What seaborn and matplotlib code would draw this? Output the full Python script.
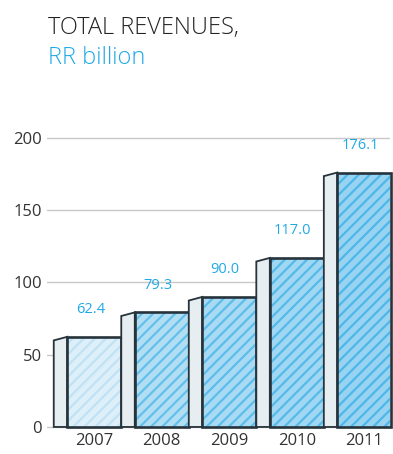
import matplotlib
matplotlib.use("Agg")
import matplotlib.pyplot as plt
from matplotlib.patches import Polygon, Rectangle
import numpy as np
import pandas as pd
import seaborn as sns

# Total revenues by year, RR billion
years = ["2007", "2008", "2009", "2010", "2011"]
revenues = [62.4, 79.3, 90.0, 117.0, 176.1]
y_ticks = [0, 50, 100, 150, 200]

df = pd.DataFrame({"year": years, "revenue": revenues})

sns.set_style("white")
plt.rcParams["font.family"] = ["Open Sans", "DejaVu Sans"]
plt.rcParams["hatch.linewidth"] = 1.6

face_colors = ["#DDEFF9", "#B2DEF4", "#A8DAF3", "#A0D7F2", "#98D3F1"]
hatch_colors = ["#C0E2F4", "#63C0EC", "#5CBDEB", "#55BAEA", "#4EB7EA"]
edge_dark = "#27333B"
side_color = "#E6EEF2"
accent = "#1FA9E6"
text_dark = "#333333"

fig = plt.figure(figsize=(3.93, 4.54), dpi=100)
ax = fig.add_axes([47 / 393, 0.050, (390 - 47) / 393, 0.662])

sns.barplot(data=df, x="year", y="revenue", hue="year", palette=face_colors,
            width=0.80, linewidth=0, legend=False, saturation=1, ax=ax)

side_w = 0.2
for i, (bar, hc) in enumerate(zip(ax.patches, hatch_colors)):
    z = 3 + i * 0.1
    bar.set_hatch("///")
    bar.set_edgecolor(hc)
    bar.set_linewidth(0)
    bar.set_zorder(z)
    x0, w, h = bar.get_x(), bar.get_width(), bar.get_height()
    # left side face of the box
    side = Polygon([(x0 - side_w, 0), (x0 - side_w, h - 2.5), (x0, h), (x0, 0)],
                   closed=True, facecolor=side_color, edgecolor=edge_dark,
                   linewidth=1.3, zorder=z - 0.01, clip_on=False)
    ax.add_patch(side)
    # front outline
    ax.add_patch(Rectangle((x0, 0), w, h, fill=False, edgecolor=edge_dark,
                           linewidth=1.9, zorder=z + 0.01, clip_on=False))
    ax.annotate(f"{revenues[i]:.1f}", (x0 + w / 2 - 0.06, h), xytext=(0, 14),
                textcoords="offset points", ha="center", va="bottom",
                color=accent, fontsize=10.5, annotation_clip=False)

ax.set_xlim(-0.70, 4.38)
ax.set_ylim(-3, 205)
ax.set_yticks(y_ticks)
ax.set_yticklabels([str(t) for t in y_ticks])
ax.yaxis.grid(True, color="#C8C8C8", linewidth=1.0)
ax.set_axisbelow(True)
for s in ax.spines.values():
    s.set_visible(False)
ax.tick_params(axis="y", length=0, pad=3.5, labelsize=12, labelcolor=text_dark)
ax.tick_params(axis="x", length=0, pad=1.5, labelsize=12, labelcolor=text_dark)
ax.set_xlabel("")
ax.set_ylabel("")

fig.text(48 / 393, 1 - 34 / 454, "TOTAL REVENUES,", fontsize=17, color="#222222",
         fontweight="light", va="baseline", ha="left")
fig.text(48 / 393, 1 - 64 / 454, "RR billion", fontsize=17, color=accent,
         fontweight="light", va="baseline", ha="left")

fig.savefig("out.png", dpi=100)
